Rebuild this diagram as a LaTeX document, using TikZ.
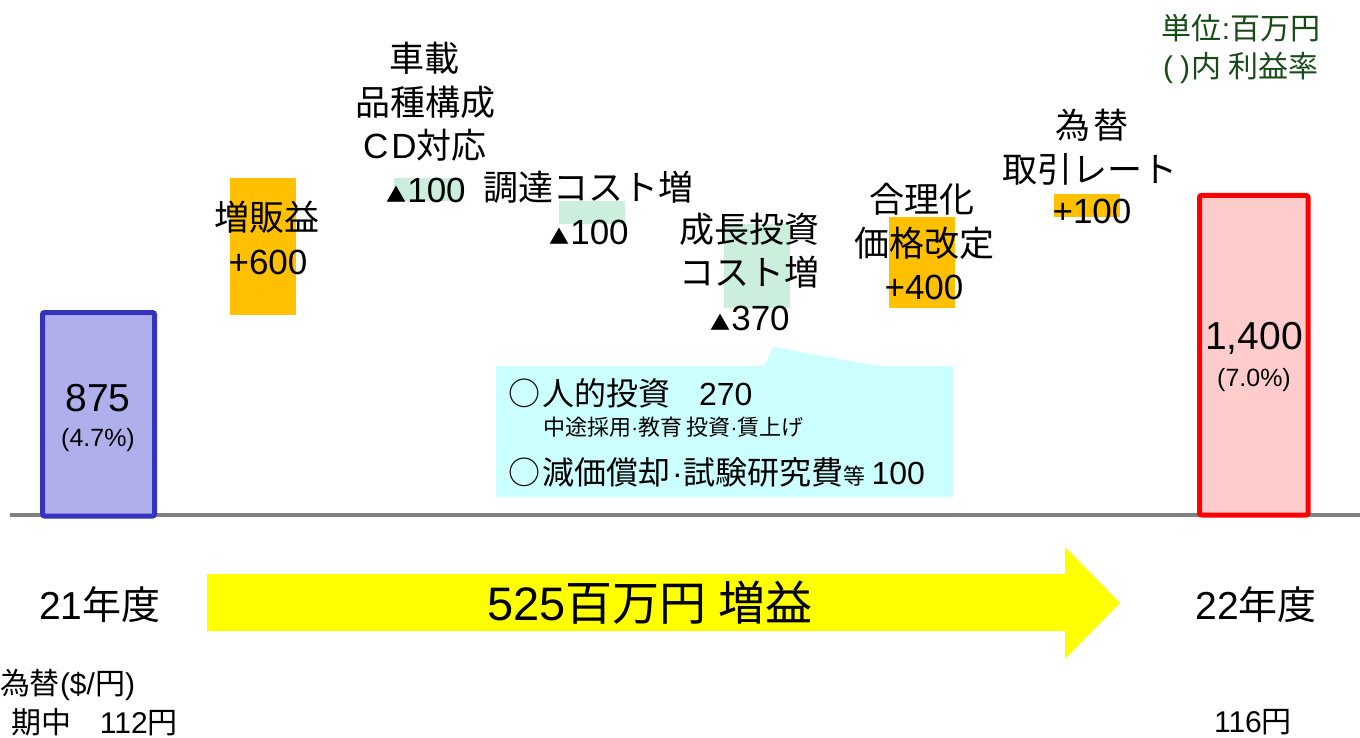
\documentclass[tikz,border=0pt]{standalone}
\usepackage{fontspec}
\setmainfont{Liberation Sans}
\newfontfamily\jp{Noto Sans CJK JP}
\newcommand{\fs}[1]{\fontsize{#1}{#1}\selectfont}
\newcommand{\tri}{{\jp\fs{20}▲}}
\definecolor{orangebar}{RGB}{255,192,0}
\definecolor{mint}{RGB}{204,238,221}
\definecolor{bluefill}{RGB}{175,175,236}
\definecolor{blueline}{RGB}{51,51,187}
\definecolor{redfill}{RGB}{255,204,204}
\definecolor{calloutfill}{RGB}{204,255,255}
\definecolor{unitgreen}{RGB}{25,75,25}
\definecolor{arrowyellow}{RGB}{255,255,0}
\begin{document}
\begin{tikzpicture}[x=1pt,y=-1pt,
  every node/.style={inner sep=0pt,outer sep=0pt},
  lbl/.style={font=\fs{35}},
  big/.style={font=\fs{39}},
  pct/.style={font=\fs{25}},
  call/.style={font=\fs{32},anchor=west},
  unit/.style={font=\fs{30},text=unitgreen},
  fx/.style={font=\fs{30}}]
\useasboundingbox (0,0) rectangle (1360,738);
\fill[white] (0,0) rectangle (1360,738);

% base line
\draw[line width=4pt,gray] (10,515) -- (1360,515);

% start / end bars
\draw[line width=5pt,draw=blueline,fill=bluefill,rounded corners=2pt] (42.5,312.5) rectangle (154.5,516);
\draw[line width=5pt,draw=red,fill=redfill,rounded corners=2pt] (1199.5,195.5) rectangle (1308,515);
\node[big] (v875) at (98,398) {875};
\node[pct] (p875) at (98,440) {(4.7\%)};
\node[big] (v1400) at (1254,338) {1,400};
\node[pct] (p1400) at (1254,380) {(7.0\%)};

% step blocks
\fill[orangebar] (230,178) rectangle (296,315);
\fill[mint] (394,178) rectangle (461,201);
\fill[mint] (559,201) rectangle (625,224);
\fill[mint] (724,224) rectangle (790,308);
\fill[orangebar] (889,217) rectangle (955,308);
\fill[orangebar] (1054,194) rectangle (1120,217);

% labels
\node[lbl] (zo1) at (267,217) {{\jp 増販益}};
\node[lbl] (zo2) at (268,262) {+600};

\node[lbl] (sh1) at (424,58) {{\jp 車載}};
\node[lbl] (sh2) at (425,102) {{\jp 品種構成}};
\node[lbl] (sh3) at (425,145) {C\hspace{3pt}D{\jp 対応}};
\node[lbl] (sh4) at (426,190) {\tri\hspace{1pt}100};

\node[lbl] (ch1) at (588,187) {{\jp 調達コスト増}};
\node[lbl] (ch2) at (589,232) {\tri\hspace{1pt}100};

\node[lbl] (se1) at (749,229) {{\jp 成長投資}};
\node[lbl] (se2) at (749,272) {{\jp コスト増}};
\node[lbl] (se3) at (750,318) {\tri\hspace{1pt}370};

\node[lbl] (go1) at (922,199) {{\jp 合理化}};
\node[lbl] (go2) at (924,243) {{\jp 価格改定}};
\node[lbl] (go3) at (924,287) {+400};

\node[lbl] (ka1) at (1092,125) {{\jp 為\hspace{3pt}替}};
\node[lbl] (ka2) at (1090,169) {{\jp 取引レート}};
\node[lbl] (ka3) at (1092,211) {+100};

% unit note
\node[unit] (u1) at (1241,28) {{\jp 単位}:{\jp 百万円}};
\node[unit] (u2) at (1241,68) {(\hspace{7pt})\hspace{1pt}{\jp 内}\hspace{8pt}{\jp 利益率}};

% callout
\fill[calloutfill] (496,366) -- (764,366) -- (773,347) -- (877,366) -- (953,366) -- (953,497) -- (496,497) -- cycle;
\node[call] (c1) at (508,393) {{\jp ○\hspace{3pt}人的投資}\hspace{28pt}270};
\node[anchor=west,font=\fs{22}] (c2) at (543,427) {{\jp 中途採用}·{\jp 教育}\hspace{4pt}{\jp 投資}·{\jp 賃上げ}};
\node[call] (c3) at (508,472) {{\jp ○\hspace{3pt}減価償却}\hspace{1pt}·\hspace{1pt}{\jp 試験研究費}{\fs{22}\jp 等}\hspace{6pt}100};

% bottom
\fill[arrowyellow] (207,574) -- (1065,574) -- (1065,547) -- (1120,603) -- (1065,659) -- (1065,631) -- (207,631) -- cycle;
\node[font=\fs{47}] (gain) at (650,603) {525{\jp 百万円}\hspace{12pt}{\jp 増益}};
\node[big] (y21) at (100,605) {21{\jp 年度}};
\node[big] (y22) at (1256,605) {22{\jp 年度}};
\node[fx,anchor=west] (fx1) at (0,685) {{\jp 為替}(\$/{\jp 円})};
\node[fx,anchor=west] (fx2) at (12,722) {{\jp 期中}\hspace{28pt}112{\jp 円}};
\node[fx] (fx3) at (1253,722) {116{\jp 円}};
\end{tikzpicture}
\end{document}
